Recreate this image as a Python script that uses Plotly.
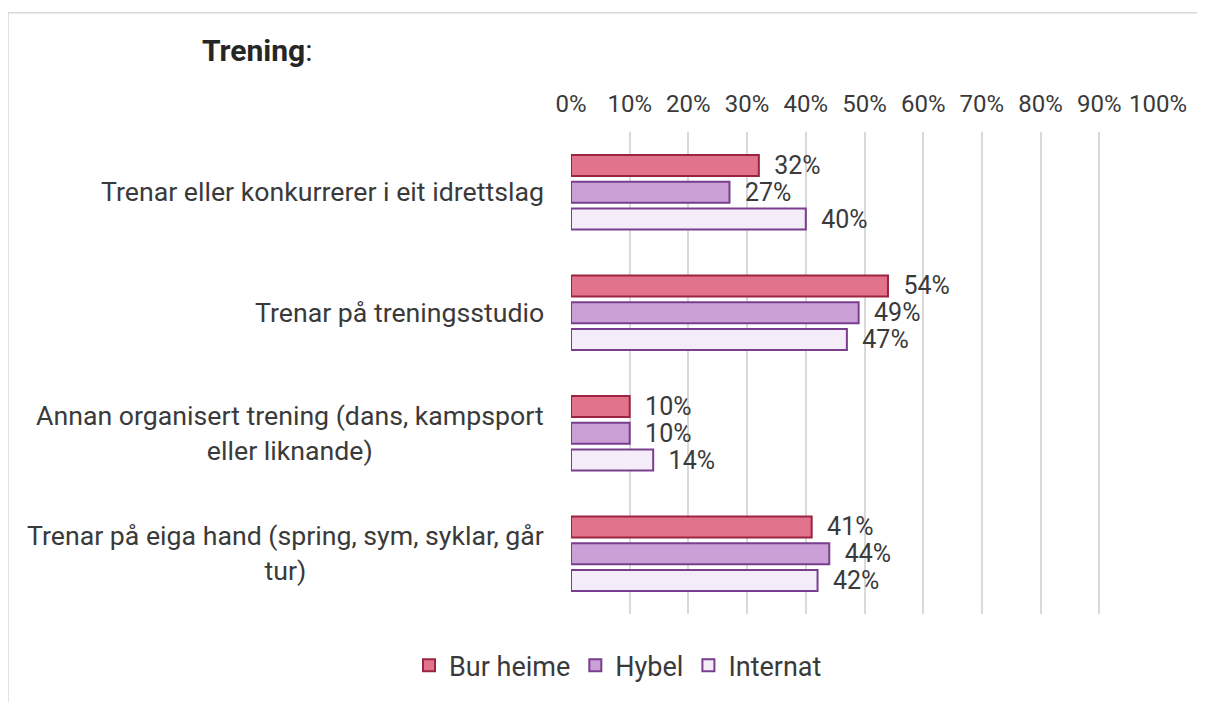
import plotly.graph_objects as go

categories = [
    "Trenar eller konkurrerer i eit idrettslag",
    "Trenar på treningsstudio",
    "Annan organisert trening (dans, kampsport<br>eller liknande)",
    "Trenar på eiga hand (spring, sym, syklar, går<br>tur)",
]
series_names = ["Bur heime", "Hybel", "Internat"]
bur_heime = [0.32, 0.54, 0.10, 0.41]
hybel = [0.27, 0.49, 0.10, 0.44]
internat = [0.40, 0.47, 0.14, 0.42]
tick_vals = [0, 0.1, 0.2, 0.3, 0.4, 0.5, 0.6, 0.7, 0.8, 0.9, 1.0]
tick_text = ["0%", "10%", "20%", "30%", "40%", "50%", "60%", "70%", "80%", "90%", "100%"]

fills = ["#E2738D", "#CAA0D6", "#F4ECF8"]
lines = ["#9B2441", "#7A3E8E", "#7A3E8E"]
FONT = "Roboto, Arial, sans-serif"
TXT = "#3a3a3a"

# page offset of the figure (body margin) and target plot area in page pixels
OFF = 8
PL, PR, PT, PB = 571, 1158, 132, 617
W, H = 1197, 694
PW, PH = PR - PL, PB - PT

def px(x):
    return (x - PL) / PW

def py(y):
    return (PB - y) / PH

fig = go.Figure()
for name, vals, fc, lc in zip(series_names, [bur_heime, hybel, internat], fills, lines):
    fig.add_trace(go.Bar(
        y=categories, x=vals, name=name, orientation="h",
        marker=dict(color=fc, line=dict(color=lc, width=2)),
        text=[f"{round(v*100)}%" for v in vals],
        texttemplate="  %{text}",
        textposition="outside",
        constraintext="none",
        cliponaxis=False,
        textfont=dict(family=FONT, size=25, color=TXT),
    ))

for cat in categories:
    fig.add_annotation(
        x=0, xref="paper", xshift=-25, xanchor="right",
        y=cat, yref="y", yanchor="middle",
        text=cat, showarrow=False, align="center",
        font=dict(family=FONT, size=26.7, color=TXT),
    )

# chart frame (top and left edges)
fig.add_shape(type="line", xref="paper", yref="paper",
              x0=px(8), x1=px(1215), y0=py(12), y1=py(12),
              line=dict(color="#d9d9d9", width=1.5))
fig.add_shape(type="line", xref="paper", yref="paper",
              x0=px(8), x1=px(8), y0=py(12), y1=py(710),
              line=dict(color="#d9d9d9", width=1.5))

fig.update_layout(
    width=W, height=H,
    margin=dict(l=PL - OFF, r=W - (PR - OFF), t=PT - OFF, b=H - (PB - OFF)),
    paper_bgcolor="white", plot_bgcolor="white",
    barmode="group", bargap=0.332, bargroupgap=0.22,
    title=dict(text="<b>Trening</b>:", x=(202 - OFF) / W, xanchor="left", xref="container",
               y=1 - (50 - OFF) / H, yanchor="middle", yref="container",
               font=dict(family=FONT, size=30, color="#262626")),
    font=dict(family=FONT, size=27, color=TXT),
    xaxis=dict(range=[0, 1], side="top", tickvals=tick_vals, ticktext=tick_text,
               showgrid=True, gridcolor="#d9d9d9", gridwidth=2,
               zeroline=False, showline=False, ticks="", ticklabelstandoff=14,
               tickfont=dict(family=FONT, size=24, color=TXT), fixedrange=True),
    yaxis=dict(autorange="reversed", showticklabels=False, showgrid=False,
               zeroline=False, showline=False, ticks=""),
    legend=dict(orientation="h", x=px(618), xanchor="center", y=py(669), yanchor="middle",
                font=dict(family=FONT, size=27, color=TXT), traceorder="normal"),
    showlegend=True,
)

fig.write_html("out.html")
